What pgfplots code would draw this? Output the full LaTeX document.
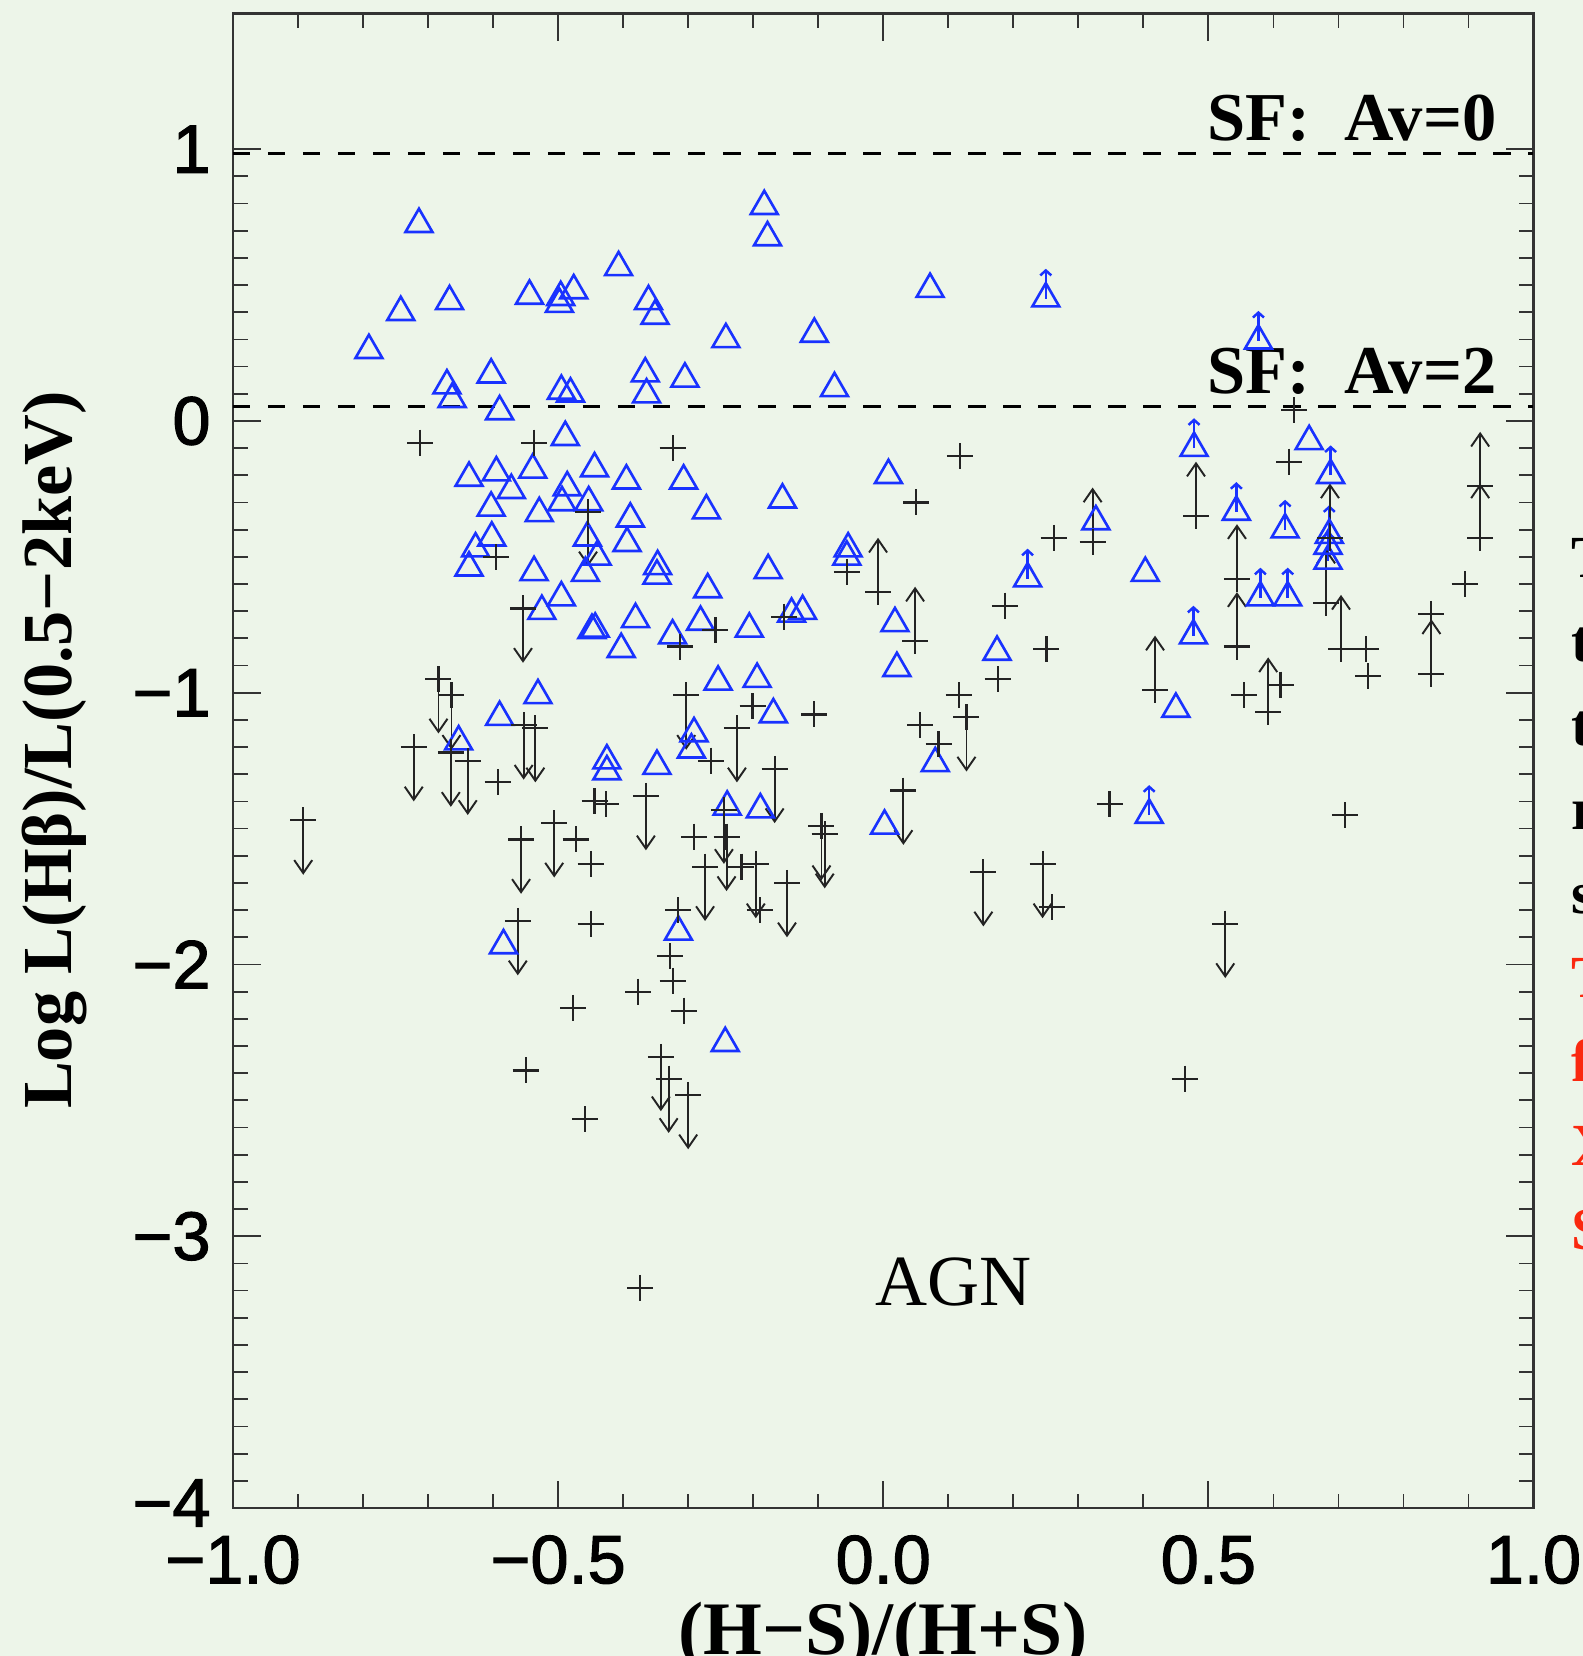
\documentclass[border=0pt]{standalone}
\usepackage{pgfplots}
\pgfplotsset{compat=1.18}
\usepackage{fontspec}
\usetikzlibrary{arrows.meta}
\newfontfamily\ticksf[FakeBold=1.6]{Liberation Sans}
\newfontfamily\serfont{Liberation Serif}
\definecolor{bgc}{RGB}{237,245,233}
\definecolor{triblue}{RGB}{25,50,255}
\definecolor{slidered}{RGB}{250,40,15}
\definecolor{pcol}{RGB}{35,35,35}
\begin{document}
\begin{tikzpicture}
\path[use as bounding box] (0,0) rectangle (158.3mm,165.6mm);
\fill[bgc] (0,0) rectangle (158.3mm,165.6mm);
\clip (0,0) rectangle (158.3mm,165.6mm);
\begin{axis}[
  at={(23.3mm,14.8mm)}, anchor=south west,
  scale only axis, width=130.05mm, height=149.47mm,
  xmin=-1, xmax=1, ymin=-4, ymax=1.5,
  xtick={-1,-0.5,0,0.5,1}, xticklabels={−1.0,−0.5,0.0,0.5,1.0},
  ytick={-4,-3,-2,-1,0,1}, yticklabels={\raisebox{1mm}{−4},−3,−2,−1,0,1},
  minor x tick num=4, minor y tick num=9,
  tick align=inside, xtick pos=both, ytick pos=both,
  major tick length=2.75mm, minor tick length=1.45mm,
  every tick/.style={black!80, line width=0.5pt},
  axis line style={black!80, line width=0.8pt},
  tick label style={font=\ticksf\fontsize{19.5}{21}\selectfont},
  xticklabel style={yshift=-1.5mm},
  yticklabel style={xshift=-1mm},
  xlabel={(H−S)/(H+S)},
  xlabel style={font=\serfont\bfseries\fontsize{21.5}{21.5}\selectfont, at={(axis description cs:0.5,-0.0977)}, anchor=base},
  ylabel={Log L(Hβ)/L(0.5−2keV)},
  ylabel style={font=\serfont\bfseries\fontsize{20}{20}\selectfont, at={(axis description cs:-0.124,0.507)}, anchor=base},
  clip=false,
]
% dashed SF lines
\addplot[black, line width=1pt, dash pattern=on 1.75mm off 1.75mm] coordinates {(-1,0.985) (1,0.985)};
\addplot[black, line width=1pt, dash pattern=on 1.75mm off 1.75mm] coordinates {(-1,0.054) (1,0.054)};
% blue triangles
\addplot[only marks, mark=triangle, mark size=1.55mm, draw=triblue, mark options={line width=0.75pt, solid, fill=none}] table {
x y
-0.791 0.26
-0.742 0.40
-0.714 0.724
-0.667 0.44
-0.671 0.13
-0.663 0.08
-0.603 0.17
-0.590 0.035
-0.544 0.46
-0.496 0.455
-0.498 0.43
-0.476 0.48
-0.407 0.565
-0.361 0.44
-0.351 0.386
-0.495 0.11
-0.481 0.10
-0.366 0.174
-0.364 0.097
-0.305 0.155
-0.242 0.30
-0.183 0.79
-0.178 0.675
-0.106 0.32
-0.075 0.12
0.072 0.485
0.250 0.45
0.577 0.295
-0.489 -0.06
-0.637 -0.21
-0.595 -0.19
-0.539 -0.18
-0.444 -0.175
-0.395 -0.22
-0.572 -0.255
-0.486 -0.245
-0.494 -0.30
-0.453 -0.30
-0.603 -0.32
-0.529 -0.34
-0.389 -0.36
-0.455 -0.43
-0.394 -0.45
-0.44 -0.50
-0.602 -0.43
-0.627 -0.47
-0.637 -0.54
-0.537 -0.557
-0.495 -0.65
-0.525 -0.70
-0.448 -0.77
-0.443 -0.765
-0.458 -0.56
-0.403 -0.84
-0.381 -0.73
-0.531 -1.01
-0.59 -1.09
-0.653 -1.18
-0.425 -1.25
-0.425 -1.29
-0.584 -1.93
-0.307 -0.22
-0.272 -0.33
-0.155 -0.29
0.008 -0.20
-0.347 -0.535
-0.348 -0.57
-0.177 -0.55
-0.054 -0.47
-0.056 -0.50
0.222 -0.58
-0.27 -0.62
-0.324 -0.79
-0.281 -0.74
-0.206 -0.765
-0.141 -0.71
-0.124 -0.70
0.018 -0.745
0.021 -0.91
0.175 -0.85
-0.254 -0.96
-0.194 -0.95
-0.169 -1.08
-0.291 -1.15
-0.295 -1.21
-0.348 -1.27
-0.24 -1.42
-0.189 -1.43
0.08 -1.26
0.002 -1.49
-0.315 -1.88
-0.243 -2.29
0.403 -0.56
0.477 -0.79
0.45 -1.06
0.409 -1.45
0.58 -0.65
0.622 -0.65
0.684 -0.515
0.478 -0.10
0.655 -0.075
0.688 -0.20
0.327 -0.37
0.543 -0.335
0.618 -0.40
0.686 -0.42
0.684 -0.46
};
% blue lower-limit arrows
\addplot[triblue, line width=0.7pt, -{Straight Barb[length=0.5mm,width=1.1mm]}, quiver={u=0,v=0.11}] table {
x y
0.250 0.45
0.577 0.295
0.222 -0.58
0.477 -0.79
0.409 -1.45
0.58 -0.65
0.622 -0.65
0.684 -0.515
0.478 -0.10
0.688 -0.20
0.543 -0.335
0.618 -0.40
0.686 -0.42
};
% black crosses
\addplot[only marks, mark=+, mark size=1.3mm, draw=pcol, mark options={line width=0.6pt}] table {
x y
-0.712 -0.08
-0.537 -0.08
-0.595 -0.50
-0.324 -0.10
0.118 -0.13
0.051 -0.30
-0.056 -0.555
0.632 0.04
0.624 -0.15
0.262 -0.43
0.251 -0.84
0.187 -0.68
0.176 -0.95
0.555 -1.01
0.611 -0.97
0.743 -0.84
0.746 -0.94
0.843 -0.71
0.894 -0.60
0.348 -1.41
0.71 -1.45
0.259 -1.79
0.464 -2.42
0.116 -1.01
0.057 -1.12
0.085 -1.19
-0.312 -0.83
-0.258 -0.77
-0.152 -0.72
-0.201 -1.05
-0.106 -1.08
-0.265 -1.25
-0.291 -1.53
-0.218 -1.64
-0.315 -1.80
-0.19 -1.80
-0.328 -1.97
-0.324 -2.06
-0.377 -2.10
-0.307 -2.17
-0.374 -3.19
-0.45 -1.85
-0.477 -2.16
-0.55 -2.39
-0.458 -2.57
-0.593 -1.33
-0.444 -1.40
-0.426 -1.41
-0.473 -1.54
-0.45 -1.63
};
% crosses with upper limits (down arrows)
\addplot[only marks, mark=+, mark size=1.3mm, draw=pcol, mark options={line width=0.6pt}] table {
x y
-0.454 -0.335
-0.303 -1.01
-0.225 -1.13
-0.167 -1.28
-0.365 -1.38
-0.245 -1.43
-0.241 -1.53
-0.274 -1.64
-0.196 -1.63
-0.148 -1.70
-0.095 -1.49
-0.09 -1.52
-0.342 -2.34
-0.33 -2.42
-0.30 -2.48
-0.562 -1.84
-0.554 -0.69
-0.684 -0.95
-0.664 -1.01
-0.722 -1.20
-0.665 -1.22
-0.639 -1.25
-0.553 -1.12
-0.535 -1.13
-0.892 -1.47
-0.557 -1.54
-0.506 -1.48
0.128 -1.09
0.031 -1.36
0.154 -1.66
0.245 -1.63
0.526 -1.85
};
\addplot[pcol, line width=0.55pt, -{Straight Barb[length=1.3mm,width=1.8mm]}, quiver={u=0,v=-0.2}] table {
x y
-0.454 -0.335
-0.303 -1.01
-0.225 -1.13
-0.167 -1.28
-0.365 -1.38
-0.245 -1.43
-0.241 -1.53
-0.274 -1.64
-0.196 -1.63
-0.148 -1.70
-0.095 -1.49
-0.09 -1.52
-0.342 -2.34
-0.33 -2.42
-0.30 -2.48
-0.562 -1.84
-0.554 -0.69
-0.684 -0.95
-0.664 -1.01
-0.722 -1.20
-0.665 -1.22
-0.639 -1.25
-0.553 -1.12
-0.535 -1.13
-0.892 -1.47
-0.557 -1.54
-0.506 -1.48
0.128 -1.09
0.031 -1.36
0.154 -1.66
0.245 -1.63
0.526 -1.85
};
% crosses with lower limits (up arrows)
\addplot[only marks, mark=+, mark size=1.3mm, draw=pcol, mark options={line width=0.6pt}] table {
x y
-0.008 -0.63
0.049 -0.81
0.481 -0.35
0.322 -0.445
0.544 -0.58
0.544 -0.83
0.687 -0.43
0.681 -0.67
0.704 -0.84
0.918 -0.24
0.918 -0.43
0.418 -0.99
0.592 -1.07
0.843 -0.93
};
\addplot[pcol, line width=0.55pt, -{Straight Barb[length=1.3mm,width=1.8mm]}, quiver={u=0,v=0.2}] table {
x y
-0.008 -0.63
0.049 -0.81
0.481 -0.35
0.322 -0.445
0.544 -0.58
0.544 -0.83
0.687 -0.43
0.681 -0.67
0.704 -0.84
0.918 -0.24
0.918 -0.43
0.418 -0.99
0.592 -1.07
0.843 -0.93
};
\node[anchor=base east, inner sep=0pt, font=\serfont\bfseries\fontsize{19.5}{19.5}\selectfont] at (axis cs:0.944,1.031) {SF:\ \ Av=0};
\node[anchor=base east, inner sep=0pt, font=\serfont\bfseries\fontsize{19.5}{19.5}\selectfont] at (axis cs:0.944,0.10) {SF:\ \ Av=2};
\node[anchor=base, inner sep=0pt, font=\serfont\fontsize{20.5}{20.5}\selectfont] at (axis cs:0.108,-3.256) {AGN};
\end{axis}
\foreach \ch/\yy/\cc in {T/107.8/black, t/99.4/black, t/91.0/black, r/82.6/black, s/74.2/black, T/65.8/slidered, f/57.4/slidered, X/49.0/slidered, S/40.6/slidered}
  \node[anchor=base west, inner sep=0pt, text=\cc, font=\serfont\bfseries\fontsize{17}{17}\selectfont] at (157.1mm,\yy mm) {\ch};
\end{tikzpicture}
\end{document}
